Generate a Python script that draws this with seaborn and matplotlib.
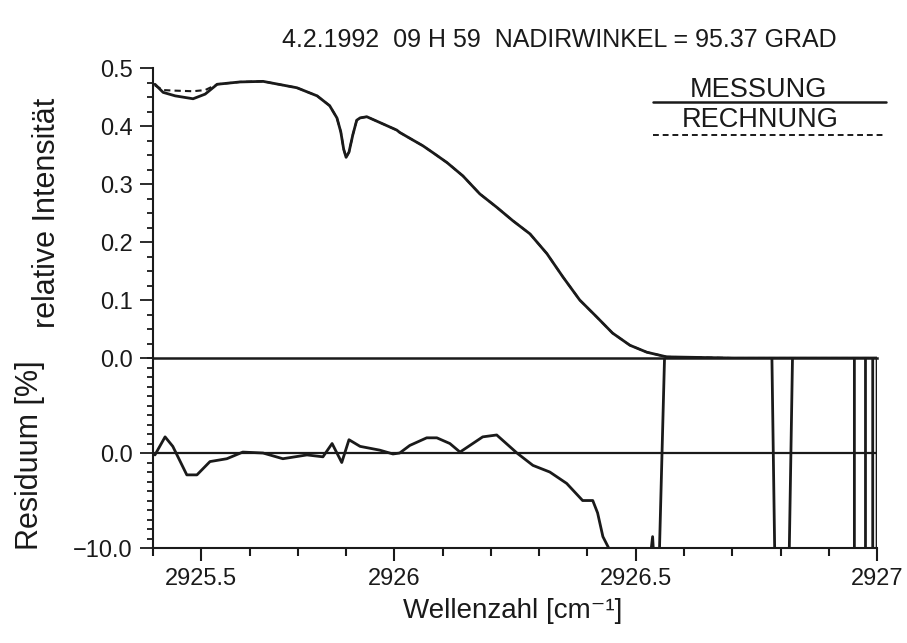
import numpy as np
import pandas as pd
import matplotlib
matplotlib.use('Agg')
import matplotlib.pyplot as plt
from matplotlib.lines import Line2D
from matplotlib.ticker import MultipleLocator, FixedLocator, FixedFormatter, FormatStrFormatter
import seaborn as sns

# spectrum (wavenumber in cm^-1, relative intensity)
wn_spec = [2925.504, 2925.521, 2925.546, 2925.583, 2925.608, 2925.633, 2925.680,
           2925.728, 2925.798, 2925.840, 2925.866, 2925.881, 2925.889, 2925.895,
           2925.900, 2925.906, 2925.914, 2925.922, 2925.929, 2925.943, 2925.970,
           2926.005, 2926.011, 2926.038, 2926.059, 2926.080, 2926.109, 2926.142,
           2926.177, 2926.212, 2926.245, 2926.281, 2926.316, 2926.349, 2926.384,
           2926.419, 2926.452, 2926.488, 2926.523, 2926.564, 2926.700, 2927.0]
messung = [0.472, 0.458, 0.452, 0.447, 0.455, 0.472, 0.476,
           0.477, 0.466, 0.452, 0.435, 0.414, 0.390, 0.360,
           0.346, 0.355, 0.385, 0.410, 0.414, 0.416, 0.406,
           0.393, 0.389, 0.376, 0.366, 0.354, 0.337, 0.314,
           0.283, 0.260, 0.237, 0.214, 0.180, 0.140, 0.100,
           0.071, 0.043, 0.022, 0.010, 0.002, 0.0, 0.0]
rechnung = [0.470, 0.462, 0.461, 0.460, 0.462, 0.472, 0.476,
            0.477, 0.466, 0.452, 0.435, 0.414, 0.390, 0.360,
            0.346, 0.355, 0.385, 0.410, 0.414, 0.416, 0.406,
            0.393, 0.389, 0.376, 0.366, 0.354, 0.337, 0.314,
            0.283, 0.260, 0.237, 0.214, 0.180, 0.140, 0.100,
            0.071, 0.043, 0.022, 0.010, 0.002, 0.0, 0.0]

# residual in percent (values beyond +-10 run off the panel)
wn_res = [2925.504, 2925.525, 2925.541, 2925.570, 2925.591, 2925.618, 2925.653,
          2925.686, 2925.728, 2925.769, 2925.819, 2925.852, 2925.871, 2925.891,
          2925.906, 2925.929, 2925.970, 2925.997, 2926.011, 2926.032, 2926.067,
          2926.088, 2926.115, 2926.136, 2926.183, 2926.212, 2926.254, 2926.287,
          2926.322, 2926.357, 2926.390, 2926.411, 2926.421, 2926.432, 2926.444,
          2926.450, 2926.531, 2926.535, 2926.537, 2926.549, 2926.560, 2926.782,
          2926.788, 2926.818, 2926.825, 2926.953, 2926.953, 2926.976, 2926.976,
          2926.991, 2926.991, 2927.0, 2927.0]
residuum = [-0.2, 1.7, 0.7, -2.3, -2.3, -0.9, -0.6,
            0.1, 0.0, -0.6, -0.2, -0.4, 1.0, -1.0,
            1.4, 0.7, 0.3, -0.1, 0.0, 0.8, 1.6,
            1.6, 1.0, 0.1, 1.7, 1.9, 0.0, -1.3,
            -2.0, -3.2, -5.0, -5.0, -6.3, -8.8, -10.0,
            -10.6, -10.6, -8.8, -10.6, -10.6, 10.6, 10.6,
            -10.6, -10.6, 10.6, 10.6, -10.6, -10.6, 10.6,
            10.6, -10.6, -10.6, 10.6]

spec = pd.DataFrame({'wn': wn_spec, 'messung': messung, 'rechnung': rechnung})
res = pd.DataFrame({'wn': wn_res, 'res': residuum})

sns.set_style('ticks')
plt.rcParams['font.family'] = ['Liberation Sans', 'DejaVu Sans']
plt.rcParams['axes.linewidth'] = 1.5

lc = '#1a1a1a'
fig = plt.figure(figsize=(9.07, 6.43), dpi=100)
ax2 = fig.add_axes([0.1687, 0.1477, 0.7983, 0.2955])
ax1 = fig.add_axes([0.1687, 0.4432, 0.7983, 0.451])

sns.lineplot(data=spec, x='wn', y='messung', ax=ax1, color=lc, lw=2.0, estimator=None, sort=False)
sns.lineplot(data=spec, x='wn', y='rechnung', ax=ax1, color=lc, lw=1.5, ls=(0, (3, 2)),
             estimator=None, sort=False)
sns.lineplot(data=res, x='wn', y='res', ax=ax2, color=lc, lw=2.0, estimator=None, sort=False)
ax2.axhline(0, color=lc, lw=1.6)

for ax in (ax1, ax2):
    ax.patch.set_alpha(0)
    ax.set_xlim(2925.5, 2927.0)
    ax.set_xlabel('')
    ax.set_ylabel('')
    ax.spines['top'].set_visible(False)
    ax.spines['right'].set_visible(False)
    for s in ax.spines.values():
        s.set_color(lc)
    ax.tick_params(axis='y', which='major', length=9.5, width=1.3, labelsize=17, pad=5,
                   direction='out', color=lc, labelcolor=lc)
    ax.tick_params(axis='y', which='minor', length=4.5, width=1.3, direction='out', color=lc)

# upper panel
ax1.set_ylim(0, 0.5)
ax1.yaxis.set_major_locator(MultipleLocator(0.1))
ax1.yaxis.set_minor_locator(MultipleLocator(0.025))
ax1.yaxis.set_major_formatter(FormatStrFormatter('%.1f'))
ax1.set_xticks([])
ax1.tick_params(axis='x', which='both', length=0)
ax1.spines['bottom'].set_linewidth(1.8)

# lower panel
ax2.set_ylim(-10, 10)
ax2.yaxis.set_major_locator(FixedLocator([-10, 0]))
ax2.yaxis.set_major_formatter(FixedFormatter(['\u221210.0', '0.0']))
ax2.yaxis.set_minor_locator(MultipleLocator(1))
ax2.xaxis.set_major_locator(FixedLocator([2925.6, 2926.0, 2926.5, 2927.0]))
ax2.xaxis.set_major_formatter(FixedFormatter(['2925.5', '2926', '2926.5', '2927']))
ax2.xaxis.set_minor_locator(MultipleLocator(0.1))
ax2.tick_params(axis='x', which='major', length=9.5, width=1.5, labelsize=17, pad=5,
                color=lc, labelcolor=lc)
ax2.tick_params(axis='x', which='minor', length=6, width=1.5, color=lc)
ax2.spines['top'].set_visible(False)

# texts
fig.text(0.617, 0.938, '4.2.1992  09 H 59  NADIRWINKEL = 95.37 GRAD', ha='center', va='center',
         fontsize=18, color=lc)
fig.text(0.052, 0.669, 'relative Intensität', rotation=90, ha='center', va='center', fontsize=22, color=lc)
fig.text(0.033, 0.292, 'Residuum [%]', rotation=90, ha='center', va='center', fontsize=22, color=lc)
fig.text(0.565, 0.050, 'Wellenzahl [cm\u207b\u00b9]', ha='center', va='center', fontsize=20, color=lc)

# legend drawn as in the original: label above its line sample
fig.text(0.836, 0.849, 'MESSUNG', ha='center', va='baseline', fontsize=19.5, color=lc)
fig.add_artist(Line2D([0.72, 0.977], [0.841, 0.841], transform=fig.transFigure, color=lc, lw=1.8))
fig.text(0.838, 0.8025, 'RECHNUNG', ha='center', va='baseline', fontsize=19.5, color=lc)
fig.add_artist(Line2D([0.72, 0.977], [0.790, 0.790], transform=fig.transFigure, color=lc, lw=1.4,
                      ls=(0, (3, 2))))

fig.savefig('out.png', dpi=100)
